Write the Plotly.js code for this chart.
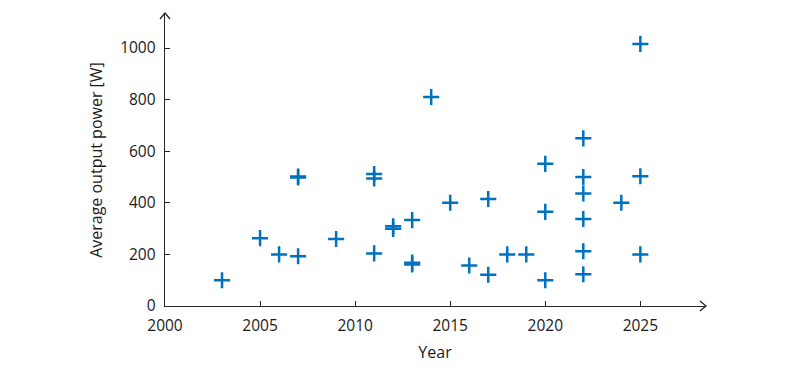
<!DOCTYPE html>
<html>
<head>
<meta charset="utf-8">
<script src="https://cdn.plot.ly/plotly-3.0.1.min.js"></script>
<style>
  html, body { margin: 0; padding: 0; background: #fff; }
  #chart { width: 792px; height: 367px; }
</style>
</head>
<body>
<div id="chart"></div>
<script>
// release year of each device
var years = [2003, 2005, 2006, 2007, 2007, 2007, 2009, 2011, 2011, 2011,
             2012, 2012, 2013, 2013, 2013, 2014, 2015, 2016, 2017, 2017,
             2018, 2019, 2020, 2020, 2020, 2022, 2022, 2022, 2022, 2022,
             2022, 2024, 2025, 2025, 2025];
// average output power [W]
var powers = [100, 263, 200, 502, 498, 193, 260, 512, 494, 204,
              309, 299, 333, 168, 161, 810, 400, 157, 415, 121,
              200, 200, 551, 365, 100, 650, 500, 436, 337, 212,
              123, 400, 1016, 503, 200];

var xTicks = [2000, 2005, 2010, 2015, 2020, 2025];
var yTicks = [0, 200, 400, 600, 800, 1000];

var axisColor = '#262626';
var fontFamily = '"Open Sans", "Noto Sans", sans-serif';

var trace1 = {
    x: years,
    y: powers,
    type: 'scatter',
    mode: 'markers',
    hoverinfo: 'none',
    marker: {
        symbol: 'cross-thin-open',
        size: 11.5,
        color: '#0072BD',
        line: { color: '#0072BD', width: 2.5 }
    }
};

var layout = {
    width: 792,
    height: 367,
    margin: { l: 165, r: 87, t: 14, b: 61 },
    paper_bgcolor: '#fff',
    plot_bgcolor: '#fff',
    showlegend: false,
    font: { family: fontFamily, size: 15.5, color: '#1a1a1a' },
    xaxis: {
        range: [2000, 2028.4],
        tickvals: xTicks,
        ticktext: xTicks.map(String),
        ticks: 'inside',
        ticklen: 5,
        tickwidth: 1,
        tickcolor: axisColor,
        ticklabelstandoff: 5,
        showline: true,
        linecolor: axisColor,
        linewidth: 1.3,
        showgrid: false,
        zeroline: false,
        title: { text: 'Year', standoff: 12, font: { size: 16 } }
    },
    yaxis: {
        range: [0, 1132],
        tickvals: yTicks,
        ticktext: yTicks.map(String),
        ticks: 'inside',
        ticklen: 5,
        tickwidth: 1,
        tickcolor: axisColor,
        ticklabelstandoff: 5,
        showline: true,
        linecolor: axisColor,
        linewidth: 1.3,
        showgrid: false,
        zeroline: false,
        title: { text: 'Average output power [W]', standoff: 13, font: { size: 16 } }
    },
    shapes: [
        {   // arrow head on the x axis
            type: 'path', xref: 'paper', yref: 'paper',
            xsizemode: 'pixel', ysizemode: 'pixel', xanchor: 1, yanchor: 0,
            path: 'M -5 -5 L 1 0 L -5 5',
            line: { color: axisColor, width: 1.3 }
        },
        {   // arrow head on the y axis
            type: 'path', xref: 'paper', yref: 'paper',
            xsizemode: 'pixel', ysizemode: 'pixel', xanchor: 0, yanchor: 1,
            path: 'M -5 -5 L 0 1 L 5 -5',
            line: { color: axisColor, width: 1.3 }
        }
    ]
};

Plotly.newPlot('chart', [trace1], layout, { staticPlot: true });
</script>
</body>
</html>
